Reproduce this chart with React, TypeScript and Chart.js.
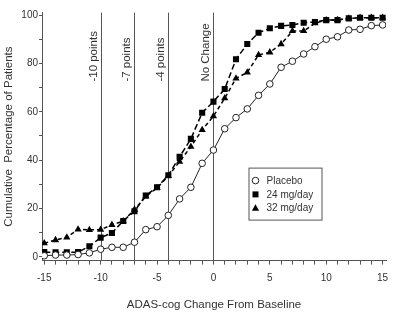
import { useEffect, useRef } from 'react';
import { Chart, registerables } from 'chart.js';

Chart.register(...registerables);

// ADAS-cog change from baseline (points)
const changes = [-15, -14, -13, -12, -11, -10, -9, -8, -7, -6, -5, -4, -3, -2, -1, 0, 1, 2, 3, 4, 5, 6, 7, 8, 9, 10, 11, 12, 13, 14, 15];

// Cumulative percentage of patients per group
const placebo = [0.5, 0.8, 0.8, 1, 1.7, 3.2, 4, 4, 6.1, 11.3, 12.5, 17.2, 24, 28.8, 38.7, 44.2, 53, 57.6, 61.2, 66.8, 71.5, 78.4, 80.9, 83.9, 86.9, 90, 91, 93.8, 94.1, 95.6, 95.9];
const dose24 = [2, 1.9, 1.9, 2, 4.4, 8, 9.9, 14.9, 18.9, 25.4, 28.8, 33.8, 41.4, 48.8, 59.6, 64.2, 69.4, 81.7, 88, 92.7, 94.5, 95.5, 95.9, 96.8, 97.1, 97.9, 97.9, 98.6, 98.9, 98.9, 98.9];
const dose32 = [5.7, 7, 8.1, 11.4, 11.2, 11.3, 13.3, 14.8, 19.6, 25, 28.5, 33.5, 39.4, 45.6, 52.5, 58.2, 65.6, 73.8, 76.3, 83.5, 84.6, 88, 93.4, 93.4, 96.6, 97.9, 98, 98.6, 98.9, 98.9, 98.9];

const seriesNames = ['Placebo', '24 mg/day', '32 mg/day'];

// Reference thresholds drawn as vertical lines
const thresholds = [-10, -7, -4, 0];
const thresholdLabels = ['-10 points', '-7 points', '-4 points', 'No Change'];

const xTickValues = changes;
const yTickValues = [0, 10, 20, 30, 40, 50, 60, 70, 80, 90, 100];

const FONT = "'Liberation Sans', Arial, sans-serif";
const INK = '#222';
const TEXT = '#333';
const RULE = '#555';

const thresholdPlugin = {
  id: 'thresholds',
  beforeDatasetsDraw(chart: any) {
    const { ctx, chartArea, scales } = chart;
    ctx.save();
    ctx.strokeStyle = RULE;
    ctx.lineWidth = 1;
    thresholds.forEach((v, i) => {
      const x = Math.round(scales.x.getPixelForValue(v)) + 0.5;
      ctx.beginPath();
      ctx.moveTo(x, chartArea.top);
      ctx.lineTo(x, chartArea.bottom);
      ctx.stroke();

      ctx.save();
      ctx.translate(x - 7.5, chartArea.top + 69);
      ctx.rotate(-Math.PI / 2);
      ctx.fillStyle = TEXT;
      ctx.font = `11.5px ${FONT}`;
      ctx.textAlign = 'left';
      ctx.textBaseline = 'middle';
      ctx.fillText(thresholdLabels[i], 0, 0);
      ctx.restore();
    });
    ctx.restore();
  },
};

function drawMarker(ctx: CanvasRenderingContext2D, kind: number, x: number, y: number) {
  ctx.beginPath();
  if (kind === 0) {
    ctx.arc(x, y, 3.3, 0, Math.PI * 2);
    ctx.fillStyle = '#fff';
    ctx.fill();
    ctx.strokeStyle = INK;
    ctx.lineWidth = 1;
    ctx.stroke();
  } else if (kind === 1) {
    ctx.fillStyle = '#000';
    ctx.fillRect(x - 3, y - 3, 6, 6);
  } else {
    ctx.moveTo(x, y - 4);
    ctx.lineTo(x + 3.6, y + 2.5);
    ctx.lineTo(x - 3.6, y + 2.5);
    ctx.closePath();
    ctx.fillStyle = '#000';
    ctx.fill();
  }
}

const legendPlugin = {
  id: 'boxLegend',
  afterDraw(chart: any) {
    const { ctx, chartArea } = chart;
    const left = chartArea.left + 206.5;
    const top = chartArea.top + 155;
    const w = 73;
    const h = 52;
    ctx.save();
    ctx.fillStyle = '#fff';
    ctx.fillRect(left, top, w, h);
    ctx.strokeStyle = RULE;
    ctx.lineWidth = 1;
    ctx.strokeRect(left + 0.5, top + 0.5, w, h);
    seriesNames.forEach((name, i) => {
      const y = top + 13 + i * 13.8;
      drawMarker(ctx, i, left + 7, y);
      ctx.fillStyle = TEXT;
      ctx.font = `10px ${FONT}`;
      ctx.textAlign = 'left';
      ctx.textBaseline = 'middle';
      ctx.fillText(name, left + 18, y + 0.5);
    });
    ctx.restore();
  },
};

export default function App() {
  const canvasRef = useRef<HTMLCanvasElement | null>(null);

  useEffect(() => {
    if (!canvasRef.current) return;
    const toPoints = (vals: number[]) => changes.map((c, i) => ({ x: c, y: vals[i] }));

    const chart = new Chart(canvasRef.current, {
      type: 'line',
      data: {
        datasets: [
          {
            label: seriesNames[0],
            data: toPoints(placebo),
            borderColor: INK,
            borderWidth: 1,
            pointStyle: 'circle',
            pointRadius: 3.3,
            pointBackgroundColor: '#fff',
            pointBorderColor: INK,
            pointBorderWidth: 1,
            tension: 0,
          },
          {
            label: seriesNames[1],
            data: toPoints(dose24),
            borderColor: '#000',
            borderWidth: 1.5,
            borderDash: [6, 3],
            pointStyle: 'rect',
            pointRadius: 4.3,
            pointBackgroundColor: '#000',
            pointBorderColor: '#000',
            pointBorderWidth: 0,
            tension: 0,
          },
          {
            label: seriesNames[2],
            data: toPoints(dose32),
            borderColor: '#000',
            borderWidth: 1.5,
            borderDash: [4, 3],
            pointStyle: 'triangle',
            pointRadius: 4.2,
            pointBackgroundColor: '#000',
            pointBorderColor: '#000',
            pointBorderWidth: 0,
            tension: 0,
          },
        ],
      },
      options: {
        responsive: false,
        animation: false,
        devicePixelRatio: 1,
        layout: { padding: { top: 12.6, right: 14, left: 0, bottom: 0 } },
        plugins: {
          legend: { display: false },
          tooltip: { enabled: false },
        },
        scales: {
          x: {
            type: 'linear',
            min: -15.2,
            max: 15.3,
            afterFit: (scale: any) => {
              scale.height = 56.4;
            },
            afterBuildTicks: (scale: any) => {
              scale.ticks = xTickValues.map((v) => ({ value: v }));
            },
            ticks: {
              autoSkip: false,
              maxRotation: 0,
              padding: 8,
              color: TEXT,
              font: { family: FONT, size: 10 },
              callback: (v: any) => (Number(v) % 5 === 0 ? String(v) : ''),
            },
            grid: {
              drawOnChartArea: false,
              drawTicks: true,
              tickLength: 4,
              color: RULE,
            },
            border: { display: true, color: RULE, width: 1 },
            title: {
              display: true,
              text: 'ADAS-cog Change From Baseline',
              color: TEXT,
              font: { family: FONT, size: 11.5 },
              padding: { top: 4, bottom: 5 },
            },
          },
          y: {
            type: 'linear',
            min: -1.5,
            max: 101,
            afterFit: (scale: any) => {
              scale.width = 42;
            },
            afterBuildTicks: (scale: any) => {
              scale.ticks = yTickValues.map((v) => ({ value: v }));
            },
            ticks: {
              autoSkip: false,
              padding: 1,
              color: TEXT,
              font: { family: FONT, size: 10 },
              callback: (v: any) => (Number(v) % 20 === 0 ? String(v) : ''),
            },
            grid: {
              drawOnChartArea: false,
              drawTicks: true,
              tickLength: 3,
              color: RULE,
            },
            border: { display: true, color: RULE, width: 1 },
            title: {
              display: true,
              text: 'Cumulative  Percentage of Patients',
              color: TEXT,
              font: { family: FONT, size: 11.5 },
              padding: { top: 2, bottom: 2 },
            },
          },
        },
      },
      plugins: [thresholdPlugin, legendPlugin],
    } as any);

    return () => chart.destroy();
  }, []);

  return (
    <div style={{ position: 'absolute', left: 0, top: 0, width: 400, height: 317, background: '#fff' }}>
      <canvas ref={canvasRef} width={400} height={317} />
    </div>
  );
}
